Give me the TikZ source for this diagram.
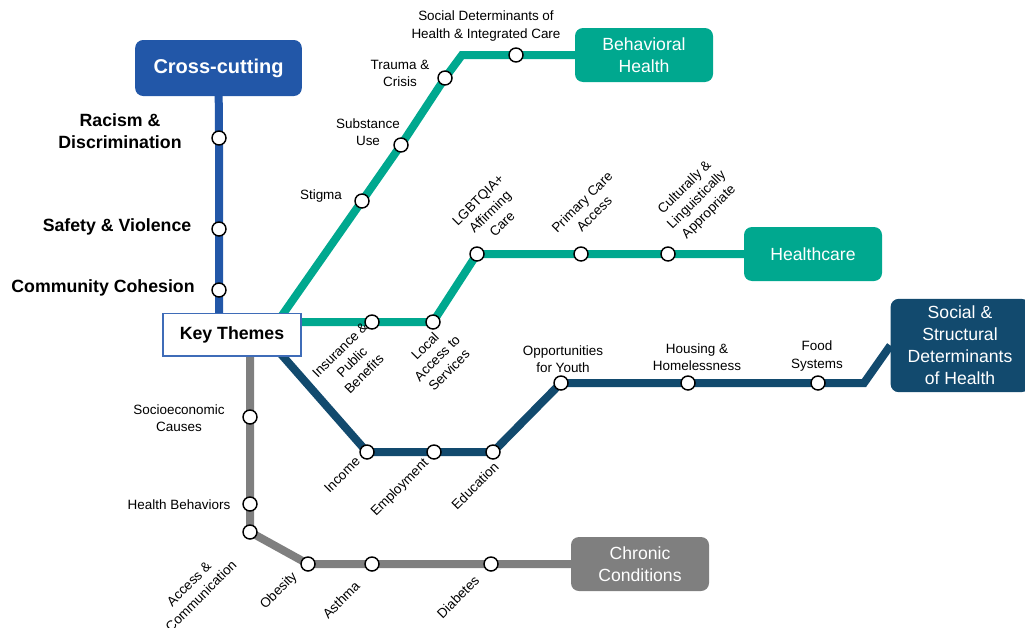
\documentclass[tikz,border=0pt]{standalone}
\usepackage{fontspec}
\setmainfont{Liberation Sans}
\usetikzlibrary{backgrounds}
\definecolor{crossblue}{HTML}{2257A8}
\definecolor{bhteal}{HTML}{00A88F}
\definecolor{sdnavy}{HTML}{124A6E}
\definecolor{chgray}{HTML}{7F7F7F}
\definecolor{ktborder}{HTML}{3F6CB8}

\begin{document}
\begin{tikzpicture}[x=0.75pt, y=-0.75pt,
  stn/.style={circle, draw=black, fill=white, line width=1.1pt, minimum size=10.5pt, inner sep=0pt},
  lbl/.style={font=\fontsize{10.1}{12.8}\selectfont, align=center, inner sep=0pt},
  rlbl/.style={lbl, rotate=45},
  blbl/.style={font=\bfseries\fontsize{13.3}{16}\selectfont, align=center, inner sep=0pt},
  linebox/.style={rounded corners=6pt, text=white, font=\fontsize{13.2}{16.5}\selectfont, align=center, inner sep=0pt},
  track/.style={line width=6pt}]
  % Page
  \useasboundingbox (0,0) rectangle (1025,628);

  % Terminal boxes
  \node[linebox, fill=crossblue, font=\bfseries\fontsize{15}{18}\selectfont, minimum width=125pt, minimum height=42pt] (cc) at (218.5,68) {Cross-cutting};
  \node[linebox, fill=bhteal, minimum width=103.5pt, minimum height=40.5pt] (bh) at (644,55) {Behavioral\\Health};
  \node[linebox, fill=bhteal, minimum width=103.5pt, minimum height=40.5pt] (hc) at (813,254) {Healthcare};
  \node[linebox, fill=sdnavy, minimum width=104pt, minimum height=70pt] (sd) at (960,345.5) {Social \&\\Structural\\Determinants\\of Health};
  \node[linebox, fill=chgray, minimum width=103.5pt, minimum height=40.5pt] (chr) at (640,564) {Chronic\\Conditions};
  \node[draw=ktborder, line width=1pt, fill=white, font=\bfseries\fontsize{13.3}{16}\selectfont, minimum width=103.5pt, minimum height=32pt, inner sep=0pt] (kt) at (232,334.5) {Key Themes};

  % Stations
  \node[stn] (rac) at (219,138) {};
  \node[stn] (saf) at (219,229) {};
  \node[stn] (com) at (219,290) {};
  \node[stn] (stg) at (362,201) {};
  \node[stn] (sub) at (401,145) {};
  \node[stn] (tra) at (445,78) {};
  \node[stn] (sdi) at (516,55) {};
  \node[stn] (ins) at (372,322) {};
  \node[stn] (loc) at (433,322) {};
  \node[stn] (lgb) at (477,254) {};
  \node[stn] (pri) at (581,254) {};
  \node[stn] (cul) at (668,254) {};
  \node[stn] (inc) at (367,452) {};
  \node[stn] (emp) at (434,452) {};
  \node[stn] (edu) at (493,452) {};
  \node[stn] (opp) at (561,383) {};
  \node[stn] (hou) at (688,383) {};
  \node[stn] (foo) at (818,383) {};
  \node[stn] (soc) at (250,417) {};
  \node[stn] (heb) at (250,504) {};
  \node[stn] (acc) at (250,532) {};
  \node[stn] (obe) at (308,564) {};
  \node[stn] (ast) at (372,564) {};
  \node[stn] (dia) at (491,564) {};

  % Bends
  \coordinate (ccin) at (219,330);
  \coordinate (bhin) at (269,334);
  \coordinate (bhbend) at (462,55);
  \coordinate (hcin) at (290,322);
  \coordinate (sdin) at (270,341.6);
  \coordinate (sdbend) at (864,383);
  \coordinate (chin) at (250,340);

  % Tracks
  \begin{scope}[on background layer]
    \draw[track, crossblue] (cc.center) -- (rac.center) -- (saf.center) -- (com.center) -- (ccin);
    \draw[track, bhteal] (bhin) -- (stg.center) -- (sub.center) -- (tra.center) -- (bhbend) -- (sdi.center) -- (bh.center);
    \draw[track, bhteal] (hcin) -- (ins.center) -- (loc.center) -- (lgb.center) -- (pri.center) -- (cul.center) -- (hc.center);
    \draw[track, sdnavy] (sdin) -- (inc.center) -- (emp.center) -- (edu.center) -- (opp.center) -- (hou.center) -- (foo.center) -- (sdbend) -- (sd.west);
    \draw[track, chgray] (chin) -- (soc.center) -- (heb.center) -- (acc.center) -- (obe.center) -- (ast.center) -- (dia.center) -- (chr.center);
  \end{scope}

  % Cross-cutting labels
  \node[blbl] (racl) at (120,131) {Racism \&\\Discrimination};
  \node[blbl] (safl) at (117,227) {Safety \& Violence};
  \node[blbl] (coml) at (103,288) {Community Cohesion};

  % Behavioral health labels
  \node[lbl] (sdil) at (486,26) {Social Determinants of\\Health \& Integrated Care};
  \node[lbl] (tral) at (400,73) {Trauma \&\\Crisis};
  \node[lbl] (subl) at (368,132) {Substance\\Use};
  \node[lbl] (stgl) at (321,196) {Stigma};

  % Healthcare labels
  \node[rlbl] (lgbl) at (490,212) {LGBTQIA+\\Affirming\\Care};
  \node[rlbl] (pril) at (588,208) {Primary Care\\Access};
  \node[rlbl] (cull) at (697,200) {Culturally \&\\Linguistically\\Appropriate};
  \node[rlbl] (insl) at (352,362) {Insurance \&\\Public\\Benefits};
  \node[rlbl] (locl) at (437,358) {Local\\Access to\\Services};

  % Social and structural labels
  \node[rlbl] (incl) at (342,475) {Income};
  \node[rlbl] (empl) at (400,488) {Employment};
  \node[rlbl] (edul) at (475,486) {Education};
  \node[lbl] (oppl) at (563,359) {Opportunities\\for Youth};
  \node[lbl] (houl) at (697,357) {Housing \&\\Homelessness};
  \node[lbl] (fool) at (817,356) {Food\\Systems};

  % Chronic condition labels
  \node[lbl] (socl) at (179,418) {Socioeconomic\\Causes};
  \node[lbl] (hebl) at (179,505) {Health Behaviors};
  \node[rlbl] (accl) at (195,590) {Access \&\\Communication};
  \node[rlbl] (obel) at (279,591) {Obesity};
  \node[rlbl] (astl) at (341,600) {Asthma};
  \node[rlbl] (dial) at (458,597) {Diabetes};
\end{tikzpicture}
\end{document}
